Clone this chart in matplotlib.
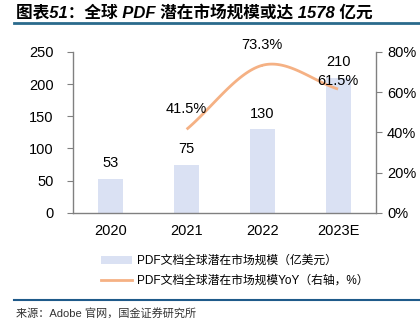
import numpy as np
import matplotlib
matplotlib.use("Agg")
import matplotlib.pyplot as plt
from matplotlib.patches import Patch
from matplotlib.lines import Line2D

plt.rcParams['font.family'] = ['Liberation Sans', 'Noto Sans CJK SC']

years = ["2020", "2021", "2022", "2023E"]
market = [53, 75, 130, 210]            # 亿美元
yoy_years = ["2021", "2022", "2023E"]
yoy = [41.5, 73.3, 61.5]                # %

bar_color = "#dae1f3"
line_color = "#f5b184"


def catmull_rom(xs, ys, n=40):
    # smooth curve through the points, like the spreadsheet "smoothed line"
    xs = np.asarray(xs, float)
    ys = np.asarray(ys, float)
    px = np.concatenate([[2 * xs[0] - xs[1]], xs, [2 * xs[-1] - xs[-2]]])
    py = np.concatenate([[2 * ys[0] - ys[1]], ys, [2 * ys[-1] - ys[-2]]])
    outx, outy = [], []
    for i in range(1, len(px) - 2):
        t = np.linspace(0, 1, n)
        for p, out in ((px, outx), (py, outy)):
            p0, p1, p2, p3 = p[i - 1], p[i], p[i + 1], p[i + 2]
            seg = 0.5 * ((2 * p1) + (-p0 + p2) * t
                         + (2 * p0 - 5 * p1 + 4 * p2 - p3) * t ** 2
                         + (-p0 + 3 * p1 - 3 * p2 + p3) * t ** 3)
            out.extend(seg)
    return np.array(outx), np.array(outy)


fig = plt.figure(figsize=(4.2, 3.26), dpi=100)
ax = fig.add_axes([0.174, 0.347, 0.721, 0.494])
ax2 = ax.twinx()

x = np.arange(len(years))
bars = ax.bar(x, market, width=0.33, color=bar_color, zorder=2)
for xi, v in zip(x, market):
    ax.text(xi, v + 24, str(v), ha="center", va="center", fontsize=10.5)

xl = [years.index(y) for y in yoy_years]
sx, sy = catmull_rom(xl, yoy)
ax2.plot(sx, sy, color=line_color, lw=2, solid_capstyle="butt")
# label offsets in percentage points above each point
label_off = [10, 10.2, 4]
for xi, v, dy in zip(xl, yoy, label_off):
    ax2.text(xi, v + dy, f"{v}%", ha="center", va="center", fontsize=10.5)

ax.set_xlim(-0.5, 3.5)
ax.set_ylim(0, 250)
ax.set_yticks(range(0, 251, 50))
ax2.set_ylim(0, 80)
ax2.set_yticks(range(0, 81, 20))
ax2.set_yticklabels([f"{t}%" for t in range(0, 81, 20)])
ax.set_xticks(x)
ax.set_xticklabels(years)

for a in (ax, ax2):
    a.spines["top"].set_visible(False)
    for s in a.spines.values():
        s.set_color("#808080")
        s.set_linewidth(1.0)
    a.tick_params(labelsize=10.5, color="#808080", length=4)
ax.spines["right"].set_visible(False)
ax2.spines["left"].set_visible(False)
ax2.spines["bottom"].set_visible(False)
ax.tick_params(axis="x", length=0, pad=8)
ax.tick_params(axis="y", pad=10)
ax2.tick_params(axis="y", pad=4)

handles = [Patch(facecolor=bar_color, edgecolor="none"),
           Line2D([], [], color=line_color, lw=2)]
labels = ["PDF文档全球潜在市场规模（亿美元）",
          "PDF文档全球潜在市场规模YoY（右轴，%）"]
fig.legend(handles, labels, loc="upper left", bbox_to_anchor=(0.23, 0.232),
           frameon=False, fontsize=8.5, handlelength=2.6, handleheight=0.6,
           handletextpad=0.4, labelspacing=0.65, borderaxespad=0)

fig.text(0.038, 0.962, "图表51：全球 PDF 潜在市场规模或达 1578 亿元",
         fontsize=12, fontweight="bold", style="italic", va="center",
         family=['Liberation Sans', 'Noto Sans CJK SC'])
fig.add_artist(Line2D([0.033, 1.0], [0.929, 0.929], color="#2a6a8c", lw=2))
fig.add_artist(Line2D([0.033, 1.0], [0.079, 0.079], color="#1f5a8a", lw=1.5))
fig.text(0.038, 0.04, "来源：Adobe 官网，国金证券研究所", fontsize=8,
         va="center", color="#333333")

fig.savefig("out.png", dpi=100)
